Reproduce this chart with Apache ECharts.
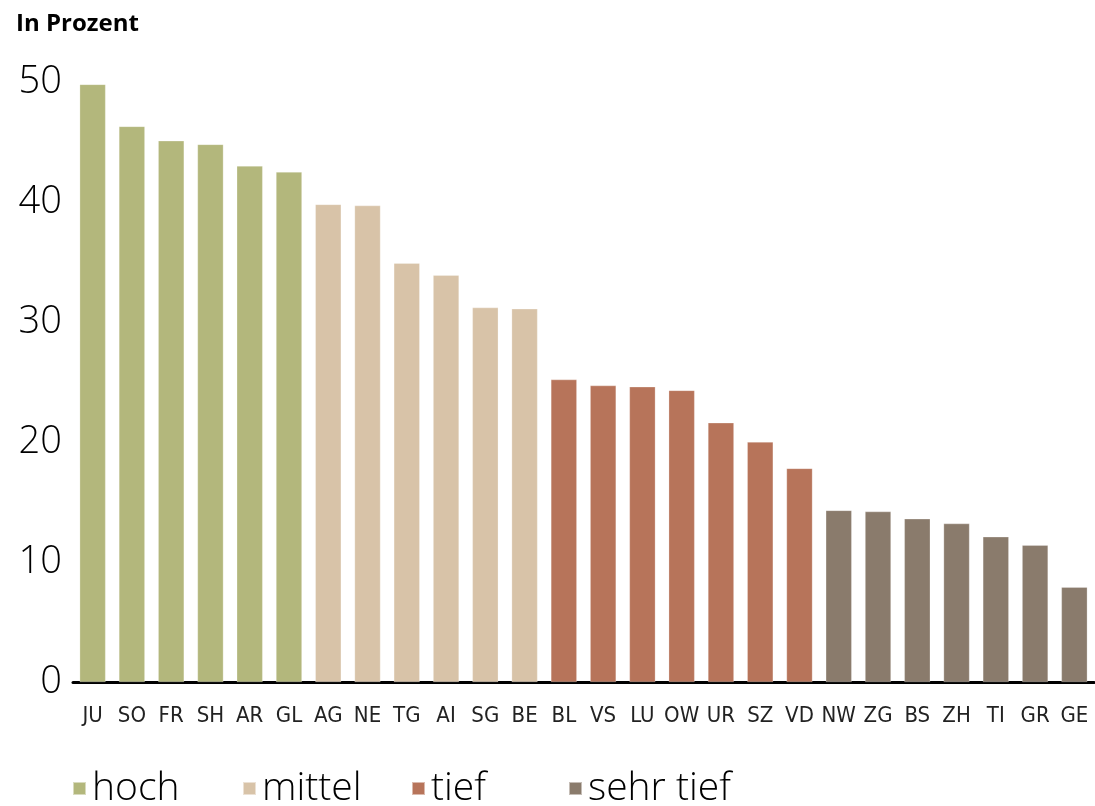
<!DOCTYPE html>
<html><head><meta charset="utf-8">
<script src="https://cdn.jsdelivr.net/npm/echarts@6/dist/echarts.min.js"></script>
<style>html,body{margin:0;padding:0;background:#fff}#c{width:1095px;height:806px}</style>
</head><body><div id="c"></div>
<script>
const categories = ["JU","SO","FR","SH","AR","GL","AG","NE","TG","AI","SG","BE","BL","VS","LU","OW","UR","SZ","VD","NW","ZG","BS","ZH","TI","GR","GE"];
const values = [49.8,46.3,45.1,44.8,43.0,42.5,39.8,39.7,34.9,33.9,31.2,31.1,25.2,24.7,24.6,24.3,21.6,20.0,17.8,14.3,14.2,13.6,13.2,12.1,11.4,7.9];
const groupOf = ["hoch","hoch","hoch","hoch","hoch","hoch","mittel","mittel","mittel","mittel","mittel","mittel","tief","tief","tief","tief","tief","tief","tief","sehr tief","sehr tief","sehr tief","sehr tief","sehr tief","sehr tief","sehr tief"];
const groups = ["hoch","mittel","tief","sehr tief"];
const colors = ["#b3b77c","#d8c3a8","#b7745a","#8a7b6c"];
const yTicks = [0,10,20,30,40,50];

const font = "'Open Sans', 'Noto Sans', sans-serif";
const chart = echarts.init(document.getElementById('c'));
const series = groups.map((g, gi) => ({
  name: g, type: 'bar', stack: 'all', barCategoryGap: '34%',
  itemStyle: {color: colors[gi], borderColor: 'rgba(255,255,255,0.5)', borderWidth: 0.5},
  data: values.map((v, i) => groupOf[i] === g ? v : null)
}));
const legendLeft = [72, 242, 411, 568];
chart.setOption({
  animation: false,
  title: {text: 'In Prozent', left: 16, top: 12, padding: 0, textStyle: {fontFamily: font, fontSize: 24, fontWeight: 'bold', color: '#000'}},
  grid: {left: 73, right: 1, top: 82, bottom: 124},
  xAxis: {type: 'category', data: categories,
    axisLine: {lineStyle: {color: '#000', width: 3}}, axisTick: {show: false},
    axisLabel: {interval: 0, margin: 23, fontFamily: "'DejaVu Sans Condensed', 'Open Sans', sans-serif", fontSize: 22, color: '#222'}},
  yAxis: {type: 'value', min: 0, max: 50, interval: 10,
    axisLine: {show: false}, axisTick: {show: false}, splitLine: {show: false},
    axisLabel: {margin: 11, fontFamily: font, fontSize: 38, fontWeight: 300, color: '#000',
      formatter: v => yTicks.includes(v) ? String(v) : ''}},
  legend: groups.map((g, gi) => ({
    data: [g], left: legendLeft[gi], top: 769, padding: 0, icon: 'rect', itemWidth: 13, itemHeight: 13, itemGap: 0,
    textStyle: {fontFamily: font, fontSize: 39, fontWeight: 300, color: '#000', padding: [0,0,0,1]}
  })),
  series
});
</script></body></html>
